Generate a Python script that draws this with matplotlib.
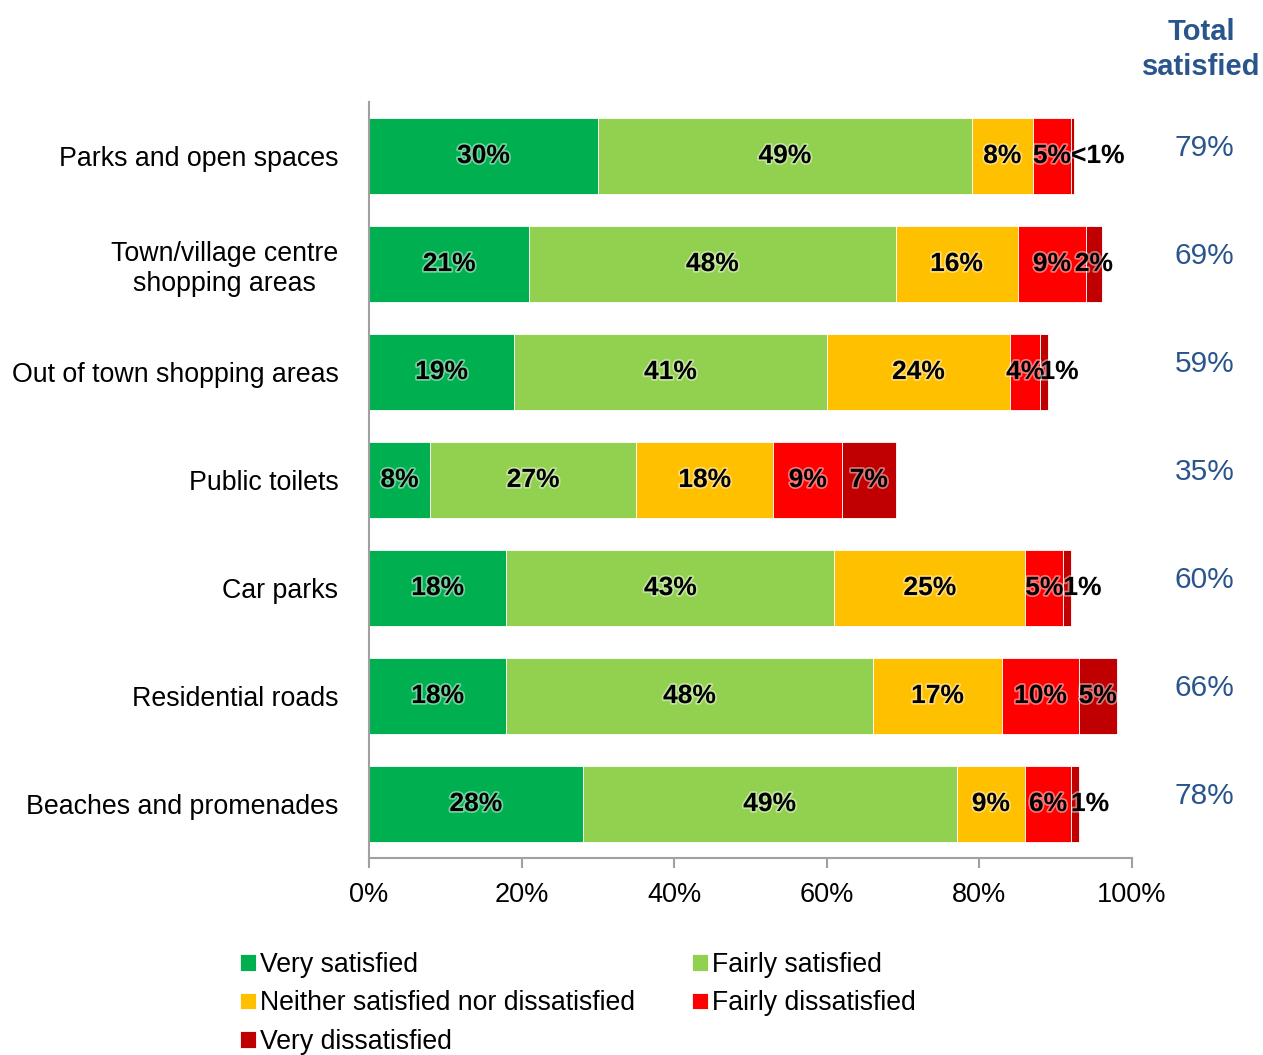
import matplotlib.pyplot as plt
import matplotlib.patheffects as pe
import numpy as np

plt.rcParams['font.family'] = ['Liberation Sans', 'DejaVu Sans']

categories = ["Parks and open spaces", "Town/village centre\nshopping areas",
              "Out of town shopping areas", "Public toilets", "Car parks",
              "Residential roads", "Beaches and promenades"]
very_satisfied = [30, 21, 19, 8, 18, 18, 28]
fairly_satisfied = [49, 48, 41, 27, 43, 48, 49]
neither = [8, 16, 24, 18, 25, 17, 9]
fairly_dissatisfied = [5, 9, 4, 9, 5, 10, 6]
very_dissatisfied = [0.4, 2, 1, 7, 1, 5, 1]
total_satisfied = [79, 69, 59, 35, 60, 66, 78]

series = [
    ("Very satisfied", very_satisfied, "#00B050"),
    ("Fairly satisfied", fairly_satisfied, "#92D050"),
    ("Neither satisfied nor dissatisfied", neither, "#FFC000"),
    ("Fairly dissatisfied", fairly_dissatisfied, "#FF0000"),
    ("Very dissatisfied", very_dissatisfied, "#C00000"),
]

fig = plt.figure(figsize=(12.63, 10.55), dpi=100)
ax = fig.add_axes([0.2922, 0.1867, 0.6041, 0.7166])

y = np.arange(len(categories))
left = np.zeros(len(categories))
halo = [pe.withStroke(linewidth=2.5, foreground="white", alpha=0.45)]
handles = []
for name, vals, col in series:
    vals = np.array(vals, dtype=float)
    bars = ax.barh(y, vals, left=left, height=0.71, color=col,
                   edgecolor="white", linewidth=0.6, label=name)
    handles.append(bars)
    for i, v in enumerate(vals):
        txt = "<1%" if v < 1 else f"{v:.0f}%"
        if v <= 1:
            # tiny segments: label starts at the segment
            x, ha = left[i], "left"
        else:
            x, ha = left[i] + v / 2, "center"
        ax.text(x, y[i], txt, ha=ha, va="center", fontsize=19,
                fontweight="bold", color="black", path_effects=halo)
    left += vals

ax.set_xlim(0, 100)
ax.set_ylim(len(categories) - 0.5, -0.5)
ax.set_xticks(np.arange(0, 101, 20))
ax.set_xticklabels([f"{t}%" for t in range(0, 101, 20)], fontsize=19.5)
ax.set_yticks(y)
ax.set_yticklabels(categories, fontsize=19.3)
for t in ax.get_yticklabels():
    t.set_multialignment("center")
ax.tick_params(axis="y", length=0, pad=22)
ax.tick_params(axis="x", length=7, width=1.5, color="#A0A0A0", pad=10)
for s in ["top", "right"]:
    ax.spines[s].set_visible(False)
for s in ["left", "bottom"]:
    ax.spines[s].set_color("#A0A0A0")
    ax.spines[s].set_linewidth(1.5)

# total satisfied column
blue = "#2A558C"
fig.text(0.951, 0.953, "Total\nsatisfied", ha="center", va="center",
         fontsize=21, fontweight="bold", color=blue, linespacing=1.3)
for i, t in enumerate(total_satisfied):
    ax.text(1.095, y[i] - 0.07, f"{t}%", transform=ax.get_yaxis_transform(),
            ha="center", va="center", fontsize=21.5, color=blue)

order = [0, 2, 4, 1, 3]
fig.legend([handles[k] for k in order], [series[k][0] for k in order],
           loc="upper left", bbox_to_anchor=(0.19, 0.098), ncol=2,
           frameon=False, fontsize=19.2, handlelength=0.6, handleheight=0.6,
           handletextpad=0.15, columnspacing=2.15, labelspacing=0.48,
           borderpad=0, borderaxespad=0)

fig.savefig("out.png", dpi=100)
